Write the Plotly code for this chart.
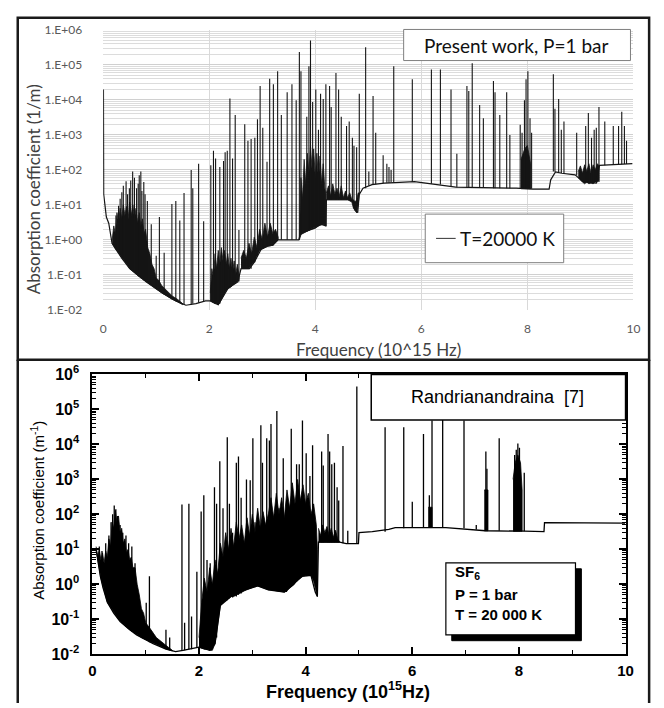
import plotly.graph_objects as go

W, H = 664, 708

# ---------------- Top panel: present work (P = 1 bar, T = 20000 K) ----------------
TOP_X_TICKS = [0, 2, 4, 6, 8, 10]
TOP_Y_TICKS = [1e-2, 1e-1, 1e0, 1e1, 1e2, 1e3, 1e4, 1e5, 1e6]
TOP_Y_TICKTEXT = ["1.E-02", "1.E-01", "1.E+00", "1.E+01", "1.E+02", "1.E+03", "1.E+04", "1.E+05", "1.E+06"]

TOP_BASE_F = [0.005, 0.01, 0.06, 0.105, 0.167, 0.25, 0.35, 0.5, 0.81, 1.12, 1.37, 1.56, 1.75, 1.93,
              2.02, 2.17, 2.36, 2.54, 2.6, 2.76, 2.85, 2.98, 3.1, 3.2, 3.3, 3.69, 3.72, 3.85, 4.0,
              4.1, 4.2, 4.21, 4.7, 4.75, 4.8, 4.83, 4.9, 5.07, 5.3, 5.87, 6.2, 6.65, 7.17, 7.79,
              8.1, 8.41, 8.44, 8.53, 8.65, 8.9, 8.96, 9.05, 9.3, 9.36, 9.98]
TOP_BASE_K = [2.0e4, 20, 4.5, 3.0, 0.8, 0.5, 0.3, 0.15, 0.063, 0.03, 0.018, 0.0135, 0.015, 0.018,
              0.018, 0.014, 0.042, 0.063, 0.15, 0.15, 0.23, 0.54, 0.66, 0.7, 1.0, 1.0, 1.5, 1.8, 2.2,
              2.8, 2.5, 14, 14, 7, 6, 20, 30, 38, 42, 46, 40, 32, 31, 30,
              28, 28, 52, 88, 80, 72, 60, 45, 42, 135, 150]

# dense (unresolved) line regions: frequency, lower and upper envelope
TOP_MASS_A_F = [0.17, 0.2, 0.23, 0.26, 0.29, 0.32, 0.35, 0.38, 0.41, 0.44, 0.47, 0.5, 0.53, 0.56, 0.59, 0.62,
                0.65, 0.68, 0.71, 0.74, 0.77, 0.8, 0.84, 0.88, 0.92, 0.96, 1.0, 1.05, 1.1, 1.2, 1.3, 1.4, 1.5]
TOP_MASS_A_LO = [0.8, 0.65, 0.55, 0.48, 0.42, 0.37, 0.32, 0.28, 0.24, 0.21, 0.18, 0.15, 0.135, 0.125, 0.115, 0.105,
                 0.095, 0.088, 0.082, 0.076, 0.07, 0.065, 0.06, 0.055, 0.05, 0.045, 0.04, 0.036, 0.031, 0.025, 0.02, 0.017, 0.014]
TOP_MASS_A_HI = [1.0, 2.5, 1.5, 6, 3, 8, 4, 10, 5, 9, 4, 12, 5, 10, 4, 8,
                 3, 6, 2.5, 4, 1.5, 2, 0.6, 0.4, 0.2, 0.15, 0.08, 0.07, 0.05, 0.035, 0.025, 0.02, 0.015]

TOP_MASS_B_F = [2.02, 2.05, 2.08, 2.11, 2.14, 2.17, 2.2, 2.23, 2.26, 2.29, 2.32, 2.35, 2.38, 2.41, 2.44, 2.47,
                2.5, 2.53, 2.56]
TOP_MASS_B_LO = [0.018, 0.017, 0.016, 0.015, 0.015, 0.014, 0.016, 0.02, 0.025, 0.03, 0.035, 0.04, 0.042, 0.045,
                 0.05, 0.055, 0.06, 0.063, 0.07]
TOP_MASS_B_HI = [0.03, 0.15, 0.08, 0.4, 0.15, 0.5, 0.2, 0.6, 0.25, 0.5, 0.2, 0.4, 0.15, 0.3, 0.12, 0.25,
                 0.1, 0.2, 0.1]

TOP_MASS_C_F = [2.6, 2.65, 2.7, 2.75, 2.8, 2.85, 2.9, 2.95, 3.0, 3.05, 3.1, 3.15, 3.2, 3.25, 3.3]
TOP_MASS_C_LO = [0.15, 0.15, 0.15, 0.15, 0.2, 0.23, 0.35, 0.5, 0.55, 0.6, 0.66, 0.68, 0.7, 0.85, 1.0]
TOP_MASS_C_HI = [0.3, 0.5, 0.3, 0.8, 0.4, 1.2, 0.6, 2, 1, 3, 1.2, 3, 1.5, 2, 1.2]

TOP_MASS_D_F = [3.70, 3.73, 3.76, 3.79, 3.82, 3.85, 3.88, 3.91, 3.94, 3.97, 4.0, 4.03, 4.06, 4.09, 4.12,
                4.15, 4.18, 4.2]
TOP_MASS_D_LO = [1.0, 1.4, 1.5, 1.6, 1.7, 1.8, 1.9, 2.0, 2.1, 2.2, 2.2, 2.4, 2.5, 2.6, 2.7, 2.8, 2.6, 2.5]
TOP_MASS_D_HI = [1.0, 60, 15, 200, 40, 300, 80, 500, 100, 400, 60, 300, 50, 250, 40, 150, 30, 20]

TOP_MASS_E_F = [4.21, 4.25, 4.29, 4.33, 4.37, 4.41, 4.45, 4.49, 4.53, 4.57, 4.61, 4.65, 4.69, 4.72, 4.75,
                4.78, 4.81, 4.83]
TOP_MASS_E_LO = [14, 14, 14, 14, 14, 14, 14, 14, 14, 14, 14, 13, 12, 8, 7, 6, 10, 20]
TOP_MASS_E_HI = [22, 35, 18, 40, 20, 30, 17, 35, 16, 25, 16, 22, 14, 14, 12, 14, 22, 22]

TOP_MASS_F_F = [7.88, 7.95, 8.0, 8.06]
TOP_MASS_F_LO = [29, 29, 29, 29]
TOP_MASS_F_HI = [200, 400, 500, 150]

TOP_MASS_G_F = [8.96, 9.0, 9.04, 9.08, 9.12, 9.16, 9.2, 9.24, 9.28, 9.32, 9.35]
TOP_MASS_G_LO = [60, 50, 45, 40, 45, 40, 42, 40, 45, 45, 50]
TOP_MASS_G_HI = [90, 130, 80, 140, 90, 150, 80, 140, 100, 150, 130]

# resolved lines: frequency, peak value, value at the foot of the line
TOP_SPIKE_F = [0.24, 0.29, 0.32, 0.352, 0.38, 0.432, 0.46, 0.494, 0.52, 0.556, 0.59, 0.63, 0.66, 0.68,
               0.71, 0.73, 0.766, 0.79, 0.833, 0.907, 1.0, 1.06, 1.15, 1.296, 1.37, 1.445, 1.525,
               1.66, 1.69, 1.80, 1.895,
               2.03, 2.08, 2.12, 2.20, 2.27, 2.30, 2.34, 2.39, 2.44, 2.49, 2.56, 2.67, 2.73, 2.79,
               2.86, 2.91, 2.96, 3.01, 3.09, 3.14, 3.21, 3.29,
               3.36, 3.47, 3.56, 3.64, 3.70, 3.73, 3.84, 3.88, 3.91, 3.95, 4.01, 4.06, 4.10, 4.15,
               4.20, 4.27, 4.30, 4.39, 4.44, 4.49, 4.59, 4.64, 4.70, 4.73, 4.78, 4.83, 4.95, 5.01,
               5.09, 5.14, 5.28, 5.35, 5.39, 5.43, 5.48, 5.83, 6.19, 6.36, 6.56,
               6.67, 6.86, 6.895, 6.96, 7.10, 7.17, 7.36, 7.39, 7.48, 7.61, 7.67, 7.865, 7.90,
               7.945, 7.975, 8.01, 8.05, 8.08, 8.49, 8.52, 8.59, 8.64, 8.69, 8.93, 9.10, 9.15,
               9.21, 9.26, 9.30, 9.35, 9.46, 9.62, 9.72, 9.78, 9.83, 9.87]
TOP_SPIKE_PEAK = [5, 9.5, 15, 23, 35, 47, 20, 30, 50, 90, 60, 30, 40, 70,
                  90, 25, 45, 20, 13, 2.8, 0.35, 4.5, 0.43, 10.5, 13, 3.6, 22,
                  100, 30, 150, 3.4,
                  135, 350, 210, 120, 180, 320, 350, 11000, 210, 3700, 1.9, 2000, 680, 760,
                  830, 2800, 25000, 1600, 170, 40000, 28000, 66000,
                  3700, 16600, 28000, 9800, 234000, 66000, 3300, 91000, 500000, 8700, 20000, 1400, 15000, 10700,
                  28000, 25000, 6300, 59000, 20000, 3300, 1800, 2400, 830, 490, 440, 15000, 320000, 90,
                  13000, 1150, 260, 150, 120, 100, 91000, 39000, 74000, 74000, 20000,
                  290, 25000, 18000, 112000, 7100, 3000, 35000, 16600, 3700, 16600, 1000, 1950, 1150,
                  9800, 39000, 66000, 3000, 1150, 54000, 5600, 10700, 1400, 2400, 1150, 1800, 4200,
                  830, 1400, 1600, 6300, 2400, 1800, 1800, 4600, 1800, 680]
TOP_SPIKE_BASE = [0.55, 0.45, 0.38, 0.32, 0.28, 0.22, 0.2, 0.16, 0.14, 0.13, 0.12, 0.1, 0.095, 0.09,
                  0.085, 0.08, 0.07, 0.067, 0.06, 0.052, 0.04, 0.035, 0.028, 0.02, 0.018, 0.016, 0.014,
                  0.014, 0.015, 0.016, 0.018,
                  0.018, 0.017, 0.016, 0.015, 0.03, 0.035, 0.04, 0.045, 0.05, 0.055, 0.065, 0.15, 0.15, 0.15,
                  0.23, 0.35, 0.5, 0.56, 0.66, 0.68, 0.7, 1.0,
                  1.0, 1.0, 1.0, 1.0, 1.0, 1.5, 1.7, 1.8, 1.9, 2.0, 2.2, 2.5, 2.8, 2.7,
                  2.5, 14, 14, 14, 14, 14, 14, 14, 12, 8, 6, 20, 30, 35,
                  38, 39, 42, 43, 43, 44, 44, 46, 40, 38, 33,
                  32, 31, 31, 31, 31, 31, 30, 30, 30, 30, 30, 29, 29,
                  29, 29, 29, 29, 29, 90, 88, 85, 82, 80, 70, 46, 45,
                  45, 45, 45, 45, 135, 140, 145, 145, 148, 148]

# ---------------- Bottom panel: Randrianandraina [7] ----------------
BOT_X_TICKS = [0, 2, 4, 6, 8, 10]
BOT_X_MINOR = [1, 3, 5, 7, 9]
BOT_Y_TICKS = [1e-2, 1e-1, 1e0, 1e1, 1e2, 1e3, 1e4, 1e5, 1e6]
BOT_Y_EXP = ["-2", "-1", "0", "1", "2", "3", "4", "5", "6"]

BOT_BASE_F = [0.07, 0.09, 0.12, 0.15, 0.2, 0.28, 0.4, 0.52, 0.7, 0.83, 1.0, 1.14, 1.38, 1.56, 1.7,
              1.9, 2.0, 2.2, 2.3, 2.35, 2.4, 2.6, 2.85, 3.1, 3.3, 3.6, 3.78, 3.9, 4.1, 4.18, 4.22,
              4.24, 4.64, 4.76, 4.99, 5.0, 5.25, 5.56, 5.68, 6.63, 7.37, 8.1, 8.47, 8.48, 9.99]
BOT_BASE_K = [10, 6, 3.5, 1.7, 0.8, 0.31, 0.15, 0.087, 0.05, 0.036, 0.026, 0.02, 0.014, 0.012, 0.013,
              0.015, 0.016, 0.013, 0.02, 0.07, 0.25, 0.45, 0.7, 0.9, 0.7, 0.6, 1.0, 1.7, 1.8, 0.6, 0.45,
              16, 16, 14.5, 14.5, 30, 32, 37, 42, 42, 34, 33, 32, 58, 56]

BOT_MASS_A_F = [0.07, 0.1, 0.13, 0.16, 0.19, 0.22, 0.25, 0.28, 0.31, 0.34, 0.37, 0.4, 0.43, 0.46, 0.49, 0.52,
                0.55, 0.58, 0.61, 0.64, 0.67, 0.7, 0.73, 0.76, 0.8, 0.84, 0.88, 0.92, 0.96, 1.0, 1.1, 1.2,
                1.3, 1.4, 1.5]
BOT_MASS_A_LO = [10, 5, 2.8, 1.5, 1.0, 0.7, 0.5, 0.31, 0.26, 0.22, 0.19, 0.16, 0.13, 0.115, 0.1, 0.09,
                 0.08, 0.072, 0.065, 0.06, 0.055, 0.05, 0.047, 0.044, 0.04, 0.036, 0.033, 0.03, 0.028, 0.026,
                 0.022, 0.019, 0.016, 0.014, 0.0125]
BOT_MASS_A_HI = [12, 6, 10, 5, 8, 4, 9, 6, 20, 12, 60, 40, 130, 60, 90, 30,
                 40, 15, 20, 8, 10, 5, 6, 3, 3, 1, 0.5, 0.2, 0.15, 0.08, 0.05, 0.03,
                 0.022, 0.017, 0.013]

BOT_MASS_B_F = [2.0, 2.05, 2.1, 2.15, 2.2, 2.25, 2.3, 2.35, 2.4, 2.45, 2.5, 2.55, 2.6, 2.65, 2.7, 2.75,
                2.8, 2.85, 2.9, 2.95, 3.0, 3.05, 3.1, 3.15, 3.2, 3.25, 3.3]
BOT_MASS_B_LO = [0.016, 0.015, 0.014, 0.014, 0.013, 0.013, 0.02, 0.07, 0.25, 0.3, 0.35, 0.4, 0.45, 0.45,
                 0.5, 0.55, 0.6, 0.65, 0.7, 0.75, 0.8, 0.85, 0.9, 0.85, 0.8, 0.75, 0.7]
BOT_MASS_B_HI = [0.03, 0.3, 1.5, 0.6, 3, 1, 5, 2, 15, 6, 30, 10, 40, 12, 60, 20,
                 50, 15, 80, 25, 100, 30, 150, 40, 120, 50, 100]

BOT_MASS_C_F = [3.3, 3.35, 3.4, 3.45, 3.5, 3.55, 3.6, 3.65, 3.7, 3.75, 3.8, 3.85, 3.9, 3.95, 4.0, 4.05,
                4.1, 4.15, 4.2, 4.22]
BOT_MASS_C_LO = [0.7, 0.7, 0.68, 0.65, 0.65, 0.62, 0.6, 0.65, 0.8, 0.9, 1.1, 1.3, 1.5, 1.7, 1.75, 1.8,
                 1.8, 1.2, 0.6, 0.45]
BOT_MASS_C_HI = [100, 300, 80, 400, 100, 300, 80, 500, 150, 800, 200, 1000, 250, 700, 200, 400,
                 100, 200, 50, 10]

BOT_MASS_D_F = [4.24, 4.28, 4.32, 4.36, 4.4, 4.44, 4.48, 4.52, 4.56, 4.6, 4.64]
BOT_MASS_D_LO = [16, 16, 16, 16, 16, 16, 16, 16, 16, 16, 16]
BOT_MASS_D_HI = [40, 25, 50, 30, 45, 25, 40, 22, 35, 20, 16]

BOT_MASS_E_F = [6.30, 6.37]
BOT_MASS_E_LO = [42, 42]
BOT_MASS_E_HI = [160, 160]

BOT_MASS_F_F = [7.35, 7.42]
BOT_MASS_F_LO = [34, 34]
BOT_MASS_F_HI = [500, 500]

BOT_MASS_G_F = [7.89, 7.93, 7.98, 8.03, 8.06]
BOT_MASS_G_LO = [33, 33, 33, 33, 33]
BOT_MASS_G_HI = [1000, 3000, 5000, 3000, 500]

BOT_SPIKE_F = [0.13, 0.18, 0.25, 0.31, 0.35, 0.38, 0.41, 0.44, 0.47, 0.52, 0.57, 0.63, 0.68, 0.74, 0.8,
               1.01, 1.07, 1.38, 1.45, 1.68, 1.73, 1.81, 1.86, 1.96,
               2.04, 2.09, 2.15, 2.21, 2.29, 2.33, 2.39, 2.45, 2.53, 2.57, 2.63, 2.70, 2.74, 2.79,
               2.89, 2.96, 3.01, 3.05, 3.10, 3.16, 3.19, 3.27, 3.32, 3.35, 3.46, 3.50, 3.58, 3.64,
               3.73, 3.83, 3.88, 3.94, 4.01, 4.08, 4.13, 4.30, 4.33, 4.42, 4.45, 4.49, 4.54, 4.59,
               4.62, 4.70, 4.79, 4.96, 5.49, 5.84, 6.00, 6.21, 6.32, 6.37, 6.57, 6.97, 7.20, 7.38,
               7.40, 7.63, 7.92, 7.95, 7.98, 8.01, 8.10]
BOT_SPIKE_PEAK = [12, 9, 15, 25, 60, 100, 180, 140, 90, 50, 30, 25, 15, 12, 4,
                  0.3, 1.7, 0.05, 0.03, 190, 0.08, 200, 0.12, 2.3,
                  120, 350, 5, 4, 600, 200, 3300, 150, 16000, 200, 30, 3000, 4500, 300,
                  1000, 950, 15000, 60, 60, 35000, 3000, 15000, 13000, 38000, 90000, 150, 4000, 100,
                  28000, 2700, 2700, 48000, 5600, 1250, 9500, 6300, 2500, 20000, 6300, 2700, 3000, 600,
                  250, 9000, 34, 450000, 31000, 31000, 230, 20000, 350, 48000, 52000, 48000, 50, 6300,
                  2000, 15000, 5000, 7000, 10700, 8000, 1550]
BOT_SPIKE_BASE = [3.5, 1.2, 0.45, 0.3, 0.24, 0.2, 0.17, 0.14, 0.12, 0.09, 0.075, 0.06, 0.055, 0.045, 0.04,
                  0.026, 0.022, 0.014, 0.013, 0.013, 0.013, 0.014, 0.014, 0.016,
                  0.016, 0.016, 0.014, 0.013, 0.02, 0.03, 0.25, 0.3, 0.35, 0.4, 0.42, 0.45, 0.5, 0.55,
                  0.7, 0.75, 0.8, 0.85, 0.9, 0.85, 0.8, 0.75, 0.7, 0.7, 0.65, 0.65, 0.6, 0.6,
                  0.9, 1.2, 1.5, 1.7, 1.75, 1.8, 1.6, 16, 16, 16, 16, 16, 16, 16,
                  16, 15, 14.5, 14.5, 32, 40, 42, 42, 42, 42, 42, 40, 37, 34,
                  34, 34, 33, 33, 33, 33, 33]


def px(x):
    return x / W


def py(y):
    return 1 - y / H


def spike_xy(fs, peaks, bases):
    xs, ys = [], []
    for f, p, b in zip(fs, peaks, bases):
        xs += [f, f, None]
        ys += [b, p, None]
    return xs, ys


def mass_xy(regions):
    xs, ys = [], []
    for f, lo, hi in regions:
        xs += list(f) + list(reversed(f)) + [None]
        ys += list(lo) + list(reversed(hi)) + [None]
    return xs, ys


fig = go.Figure()
TOP_INK = "#151515"

# ---- top panel traces ----
mx, my = mass_xy([(TOP_MASS_A_F, TOP_MASS_A_LO, TOP_MASS_A_HI), (TOP_MASS_B_F, TOP_MASS_B_LO, TOP_MASS_B_HI),
                  (TOP_MASS_C_F, TOP_MASS_C_LO, TOP_MASS_C_HI), (TOP_MASS_D_F, TOP_MASS_D_LO, TOP_MASS_D_HI),
                  (TOP_MASS_E_F, TOP_MASS_E_LO, TOP_MASS_E_HI), (TOP_MASS_F_F, TOP_MASS_F_LO, TOP_MASS_F_HI),
                  (TOP_MASS_G_F, TOP_MASS_G_LO, TOP_MASS_G_HI)])
fig.add_trace(go.Scatter(x=mx, y=my, mode="lines", fill="toself", fillcolor=TOP_INK,
                         line=dict(color=TOP_INK, width=0.8), xaxis="x", yaxis="y",
                         showlegend=False, hoverinfo="skip"))
sx, sy = spike_xy(TOP_SPIKE_F, TOP_SPIKE_PEAK, TOP_SPIKE_BASE)
fig.add_trace(go.Scatter(x=sx, y=sy, mode="lines", line=dict(color=TOP_INK, width=1.1),
                         xaxis="x", yaxis="y", showlegend=False, hoverinfo="skip"))
fig.add_trace(go.Scatter(x=TOP_BASE_F, y=TOP_BASE_K, mode="lines", name="T=20000 K",
                         line=dict(color=TOP_INK, width=1.2), xaxis="x", yaxis="y", showlegend=False))

# ---- bottom panel traces ----
mx, my = mass_xy([(BOT_MASS_A_F, BOT_MASS_A_LO, BOT_MASS_A_HI), (BOT_MASS_B_F, BOT_MASS_B_LO, BOT_MASS_B_HI),
                  (BOT_MASS_C_F, BOT_MASS_C_LO, BOT_MASS_C_HI), (BOT_MASS_D_F, BOT_MASS_D_LO, BOT_MASS_D_HI),
                  (BOT_MASS_E_F, BOT_MASS_E_LO, BOT_MASS_E_HI), (BOT_MASS_F_F, BOT_MASS_F_LO, BOT_MASS_F_HI),
                  (BOT_MASS_G_F, BOT_MASS_G_LO, BOT_MASS_G_HI)])
fig.add_trace(go.Scatter(x=mx, y=my, mode="lines", fill="toself", fillcolor="black",
                         line=dict(color="black", width=0.8), xaxis="x2", yaxis="y2",
                         showlegend=False, hoverinfo="skip"))
sx, sy = spike_xy(BOT_SPIKE_F, BOT_SPIKE_PEAK, BOT_SPIKE_BASE)
fig.add_trace(go.Scatter(x=sx, y=sy, mode="lines", line=dict(color="black", width=1.3),
                         xaxis="x2", yaxis="y2", showlegend=False, hoverinfo="skip"))
fig.add_trace(go.Scatter(x=BOT_BASE_F, y=BOT_BASE_K, mode="lines", line=dict(color="black", width=1.3),
                         xaxis="x2", yaxis="y2", showlegend=False))

TOP_FONT = "Lato, Open Sans, sans-serif"
BOT_FONT = "Liberation Sans, Arial, sans-serif"

fig.update_layout(
    width=W, height=H, margin=dict(l=0, r=0, t=0, b=0),
    paper_bgcolor="white", plot_bgcolor="white", showlegend=False,
    xaxis=dict(domain=[px(101), px(641)], anchor="y", range=[0, 10],
               tickvals=TOP_X_TICKS, ticktext=[str(v) for v in TOP_X_TICKS],
               showgrid=True, gridcolor="#d9d9d9", gridwidth=1, zeroline=False, showline=False,
               ticks="", ticklabelstandoff=10,
               tickfont=dict(family=TOP_FONT, size=12, color="#595959")),
    yaxis=dict(domain=[py(307.5), py(19.5)], anchor="x", type="log", range=[-2, 6],
               tickvals=TOP_Y_TICKS, ticktext=TOP_Y_TICKTEXT,
               showgrid=True, gridcolor="#d0d0d0", gridwidth=1, zeroline=False, showline=False,
               minor=dict(dtick="D1", showgrid=True, gridcolor="#dcdcdc", gridwidth=1),
               ticks="", ticklabelstandoff=20,
               tickfont=dict(family=TOP_FONT, size=12, color="#595959")),
    xaxis2=dict(domain=[px(90), px(633)], anchor="y2", range=[0, 10],
                tickvals=BOT_X_TICKS, ticktext=["<b>%d</b>" % v for v in BOT_X_TICKS],
                showgrid=False, zeroline=False, showline=True, linecolor="black", linewidth=2,
                mirror="allticks", ticks="inside", ticklen=7, tickwidth=1.5, tickcolor="black",
                minor=dict(tickvals=BOT_X_MINOR, ticks="inside", ticklen=4, tickwidth=1.2, tickcolor="black"),
                ticklabelstandoff=2,
                tickfont=dict(family=BOT_FONT, size=15, color="black")),
    yaxis2=dict(domain=[py(662), py(374)], anchor="x2", type="log", range=[-2, 6],
                tickvals=BOT_Y_TICKS, ticktext=["<b>10<sup>%s</sup></b>" % e for e in BOT_Y_EXP],
                showgrid=False, zeroline=False, showline=True, linecolor="black", linewidth=2,
                mirror="allticks", ticks="inside", ticklen=7, tickwidth=1.5, tickcolor="black",
                minor=dict(dtick="D1", ticks="inside", ticklen=4, tickwidth=1, tickcolor="black"),
                ticklabelstandoff=8,
                tickfont=dict(family=BOT_FONT, size=16, color="black")),
)

shapes = [
    # outer frames of the two stacked figures
    dict(type="rect", xref="paper", yref="paper", x0=px(14), x1=px(657), y0=py(359), y1=py(7),
         line=dict(color="#1a1a1a", width=2.5), layer="above"),
    dict(type="line", xref="paper", yref="paper", x0=px(14), x1=px(14), y0=py(359), y1=py(712),
         line=dict(color="#1a1a1a", width=2.5), layer="above"),
    dict(type="line", xref="paper", yref="paper", x0=px(657), x1=px(657), y0=py(359), y1=py(712),
         line=dict(color="#1a1a1a", width=2.5), layer="above"),
    # top panel boxes
    dict(type="rect", xref="paper", yref="paper", x0=px(407), x1=px(638), y0=py(51), y1=py(19),
         fillcolor="white", line=dict(color="#7f7f7f", width=1), layer="above"),
    dict(type="rect", xref="paper", yref="paper", x0=px(429), x1=px(570), y0=py(259), y1=py(209),
         fillcolor="white", line=dict(color="#7f7f7f", width=1), layer="above"),
    dict(type="line", xref="paper", yref="paper", x0=px(440), x1=px(460), y0=py(234), y1=py(234),
         line=dict(color="#333333", width=1), layer="above"),
    # bottom panel boxes
    dict(type="rect", xref="paper", yref="paper", x0=px(374), x1=px(633), y0=py(421), y1=py(374),
         fillcolor="white", line=dict(color="black", width=1.5), layer="above"),
    dict(type="rect", xref="paper", yref="paper", x0=px(456), x1=px(588), y0=py(648), y1=py(574),
         fillcolor="black", line=dict(color="black", width=1), layer="above"),
    dict(type="rect", xref="paper", yref="paper", x0=px(450), x1=px(582), y0=py(642), y1=py(568),
         fillcolor="white", line=dict(color="black", width=1.2), layer="above"),
]


def label(text, x, y, family, size, color="black", angle=0, xanchor="center"):
    return dict(text=text, x=px(x), y=py(y), xref="paper", yref="paper", textangle=angle,
                xanchor=xanchor, yanchor="middle", showarrow=False,
                font=dict(family=family, size=size, color=color))


annotations = [
    label("Absorption coefficient (1/m)", 30, 183, TOP_FONT, 17, "#404040", angle=-90),
    label("Frequency (10^15 Hz)", 381, 348, TOP_FONT, 17, "#404040"),
    label("Present work, P=1 bar", 522, 35, TOP_FONT, 19, "#111111"),
    label("T=20000 K", 462, 234, TOP_FONT, 19, "#111111", xanchor="left"),
    label("Absorption coefficient (m<sup>-1</sup>)", 34, 514, BOT_FONT, 15, angle=-90),
    label("<b>Frequency (10<sup>15</sup>Hz)</b>", 350, 699, BOT_FONT, 18),
    label("Randrianandraina  [7]", 503, 397, BOT_FONT, 18),
    label("<b>SF<sub>6</sub></b>", 457, 578, BOT_FONT, 15, xanchor="left"),
    label("<b>P = 1 bar</b>", 457, 600, BOT_FONT, 15, xanchor="left"),
    label("<b>T = 20 000 K</b>", 457, 621, BOT_FONT, 15, xanchor="left"),
]

fig.update_layout(shapes=shapes, annotations=annotations)
fig.write_html("out.html")
